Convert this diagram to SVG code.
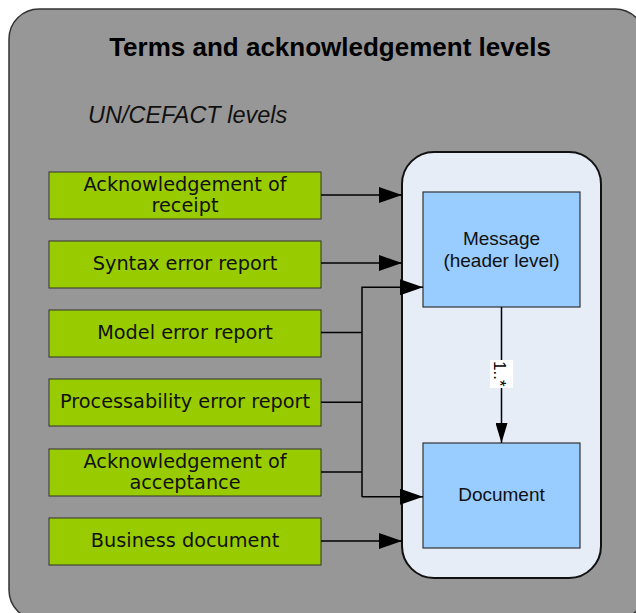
<svg xmlns="http://www.w3.org/2000/svg" width="636" height="613" viewBox="0 0 636 613">
<defs>
<style>
.bg{fill:#979797;stroke:#333;stroke-width:1.5}
.green{fill:#99CC00;stroke:#333;stroke-width:1}
.blue{fill:#99CCFF;stroke:#333;stroke-width:1.2}
.cont{fill:#E6EDF7;stroke:#111;stroke-width:2}
.gt{font-family:"DejaVu Sans",Verdana,sans-serif;font-size:19.3px;fill:#111;text-anchor:middle}
.bt{font-family:"Liberation Sans",Arial,sans-serif;font-size:19px;fill:#111;text-anchor:middle}
.ln{fill:none;stroke:#000;stroke-width:1.5}
</style>
<marker id="ah" markerWidth="23" markerHeight="16" refX="23" refY="8" orient="auto" markerUnits="userSpaceOnUse">
<path d="M0,0 L23,8 L0,16 Z" fill="#000"/>
</marker>
<marker id="ah2" markerWidth="20" markerHeight="12" refX="20" refY="6" orient="auto" markerUnits="userSpaceOnUse">
<path d="M0,0 L20,6 L0,12 Z" fill="#000"/>
</marker>
</defs>
<rect class="bg" x="9" y="9" width="636" height="611" rx="30" ry="30"/>
<text x="330" y="56" font-family="Liberation Sans,Arial,sans-serif" font-size="26" font-weight="bold" fill="#000" text-anchor="middle">Terms and acknowledgement levels</text>
<text x="88" y="123" font-family="Liberation Sans,Arial,sans-serif" font-size="23.5" font-style="italic" fill="#111">UN/CEFACT levels</text>

<g id="container"><rect class="cont" x="402" y="152" width="199" height="426" rx="32" ry="32"/></g>

<g id="n1"><rect class="green" x="49" y="172" width="272" height="47"/><text class="gt" x="185" y="191">Acknowledgement of</text><text class="gt" x="185" y="212">receipt</text></g>
<g id="n2"><rect class="green" x="49" y="241" width="272" height="47"/><text class="gt" x="185" y="270">Syntax error report</text></g>
<g id="n3"><rect class="green" x="49" y="310" width="272" height="47"/><text class="gt" x="185" y="339">Model error report</text></g>
<g id="n4"><rect class="green" x="49" y="379" width="272" height="47"/><text class="gt" x="185" y="408">Processability error report</text></g>
<g id="n5"><rect class="green" x="49" y="449" width="272" height="47"/><text class="gt" x="185" y="468">Acknowledgement of</text><text class="gt" x="185" y="489">acceptance</text></g>
<g id="n6"><rect class="green" x="49" y="518" width="272" height="47"/><text class="gt" x="185" y="547">Business document</text></g>

<g id="message"><rect class="blue" x="423" y="192" width="157" height="115"/><text class="bt" x="501.5" y="245">Message</text><text class="bt" x="501.5" y="267">(header level)</text></g>
<g id="document"><rect class="blue" x="423" y="443" width="157" height="105"/><text class="bt" x="501.5" y="501">Document</text></g>

<g id="connectors">
<line class="ln" x1="321" y1="195" x2="402" y2="195" marker-end="url(#ah)"/>
<line class="ln" x1="321" y1="263" x2="402" y2="263" marker-end="url(#ah)"/>
<line class="ln" x1="321" y1="541" x2="402" y2="541" marker-end="url(#ah)"/>
<line class="ln" x1="321" y1="332.5" x2="362" y2="332.5"/>
<line class="ln" x1="321" y1="402.3" x2="362" y2="402.3"/>
<line class="ln" x1="321" y1="472" x2="362" y2="472"/>
<path class="ln" d="M362,497 L362,287.3 L423,287.3" marker-end="url(#ah)"/>
<line class="ln" x1="362" y1="496.7" x2="423" y2="496.7" marker-end="url(#ah)"/>
<line class="ln" x1="501.5" y1="307" x2="501.5" y2="443" marker-end="url(#ah2)"/>
<rect x="490" y="360" width="23" height="28" fill="#fff"/>
<text x="0" y="0" transform="translate(494,361) rotate(90)" font-family="Liberation Sans,Arial,sans-serif" font-size="17" fill="#000">1..*</text>
</g>
</svg>
